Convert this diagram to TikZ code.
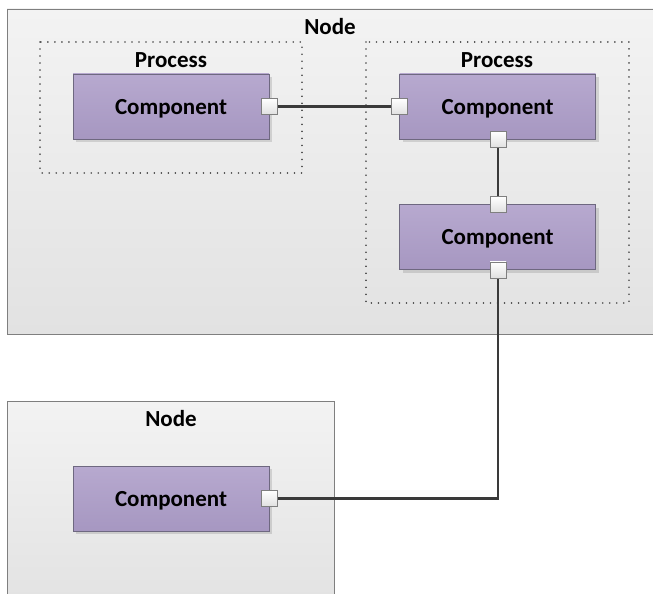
\documentclass[tikz,border=0pt]{standalone}
\usepackage{fontspec}
\setmainfont{Carlito}
\usetikzlibrary{shadows}
\definecolor{nodeborder}{HTML}{7F7F7F}
\definecolor{nodetop}{HTML}{F3F3F3}
\definecolor{nodebot}{HTML}{E2E2E2}
\definecolor{comptop}{HTML}{B7A9CF}
\definecolor{compbot}{HTML}{A697C1}
\definecolor{compborder}{HTML}{6E6880}
\definecolor{wire}{HTML}{3A3A3A}
\definecolor{dotcol}{HTML}{4A4A4A}
\begin{document}
\begin{tikzpicture}[x=1pt,y=-1pt,
  hostbox/.style={draw=nodeborder, line width=0.9pt, top color=nodetop, bottom color=nodebot, inner sep=0pt},
  procbox/.style={draw=dotcol, line width=1.7pt, dash pattern=on 0.01pt off 7pt, line cap=round},
  compbox/.style={draw=compborder, line width=0.8pt, top color=comptop, bottom color=compbot,
     minimum width=196pt, minimum height=65pt, inner sep=0pt,
     font=\fontsize{23}{25}\selectfont\bfseries, text height=15pt, text depth=0pt,
     drop shadow={shadow xshift=3pt, shadow yshift=-3pt, fill=black, opacity=0.12}},
  portbox/.style={draw=nodeborder, line width=0.8pt, top color=white, bottom color=white!88!black,
     minimum width=16pt, minimum height=16pt, inner sep=0pt},
  lbl/.style={anchor=base, font=\fontsize{23}{25}\selectfont\bfseries, inner sep=0pt},
  wireline/.style={draw=wire, line width=2.3pt}
]
\useasboundingbox (0,0) rectangle (653,594);
\clip (0,0) rectangle (653,594);
\fill[white] (0,0) rectangle (653,594);
% hosts
\path[hostbox] (7,9) rectangle (660,334);
\path[hostbox] (7,401) rectangle (334,610);
% processes
\draw[procbox] (40,42) rectangle (302,173);
\draw[procbox] (366,42) rectangle (629,303);
% labels
\node[lbl] (n1) at (330,35) {Node};
\node[lbl] (n2) at (171,426) {Node};
\node[lbl] (p1) at (171,67) {Process};
\node[lbl] (p2) at (497,67) {Process};
% components
\node[compbox] (c1) at (171,106.5) {Component};
\node[compbox] (c2) at (497.5,106.5) {Component};
\node[compbox] (c3) at (497.5,237) {Component};
\node[compbox] (c4) at (171,498.5) {Component};
% wires
\coordinate (bend) at (498,498.5);
\draw[wireline] (c1.east) -- (c2.west);
\draw[wireline] ([xshift=0.5pt]c2.south) -- ([xshift=0.5pt]c3.north);
\draw[wireline] (c4.east) -- (bend) -- ([xshift=0.5pt]c3.south);
% ports
\node[portbox] (q1) at (c1.east) {};
\node[portbox] (q2) at (c2.west) {};
\node[portbox] (q3) at ([xshift=0.5pt]c2.south) {};
\node[portbox] (q4) at ([xshift=0.5pt]c3.north) {};
\node[portbox] (q5) at ([xshift=0.5pt]c3.south) {};
\node[portbox] (q6) at (c4.east) {};
\end{tikzpicture}
\end{document}
